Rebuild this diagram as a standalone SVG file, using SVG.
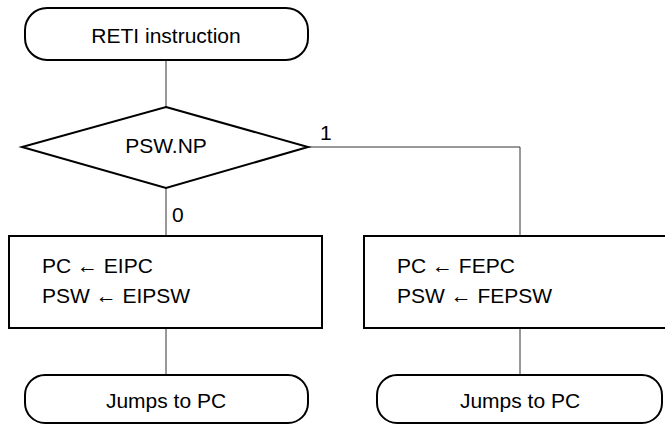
<svg xmlns="http://www.w3.org/2000/svg" width="665" height="425" viewBox="0 0 665 425">
<style>
.s{fill:#fff;stroke:#000;stroke-width:2}
.c{fill:none;stroke:#333;stroke-width:1}
.t{font-family:"Liberation Sans",Arial,sans-serif;font-size:21px;fill:#000}
.m{text-anchor:middle}
</style>
<rect width="665" height="425" fill="#fff"/>
<g id="connectors">
<line class="c" x1="166" y1="61" x2="166" y2="107"/>
<line class="c" x1="166" y1="188" x2="166" y2="236"/>
<polyline class="c" points="308,147 520,147 520,236"/>
<line class="c" x1="166" y1="328" x2="166" y2="375"/>
<line class="c" x1="520" y1="328" x2="520" y2="375"/>
<text class="t" x="172" y="222">0</text>
<text class="t" x="320" y="140">1</text>
</g>
<g id="start">
<rect class="s" x="25" y="8" width="283" height="52" rx="22" ry="22"/>
<text class="t m" x="166" y="43">RETI instruction</text>
</g>
<g id="decision">
<polygon class="s" points="166,107 308,147 166,188 22,147"/>
<text class="t m" x="166" y="153">PSW.NP</text>
</g>
<g id="box-eipc">
<rect class="s" x="9" y="236" width="313" height="92"/>
<text class="t" x="42" y="273">PC ← EIPC</text>
<text class="t" x="42" y="303">PSW ← EIPSW</text>
</g>
<g id="box-fepc">
<rect class="s" x="364" y="236" width="310" height="92"/>
<text class="t" x="397" y="273">PC ← FEPC</text>
<text class="t" x="397" y="303">PSW ← FEPSW</text>
</g>
<g id="end-left">
<rect class="s" x="25" y="375" width="283" height="48" rx="20" ry="20"/>
<text class="t m" x="166" y="408">Jumps to PC</text>
</g>
<g id="end-right">
<rect class="s" x="377" y="375" width="285" height="48" rx="20" ry="20"/>
<text class="t m" x="520" y="408">Jumps to PC</text>
</g>
</svg>
